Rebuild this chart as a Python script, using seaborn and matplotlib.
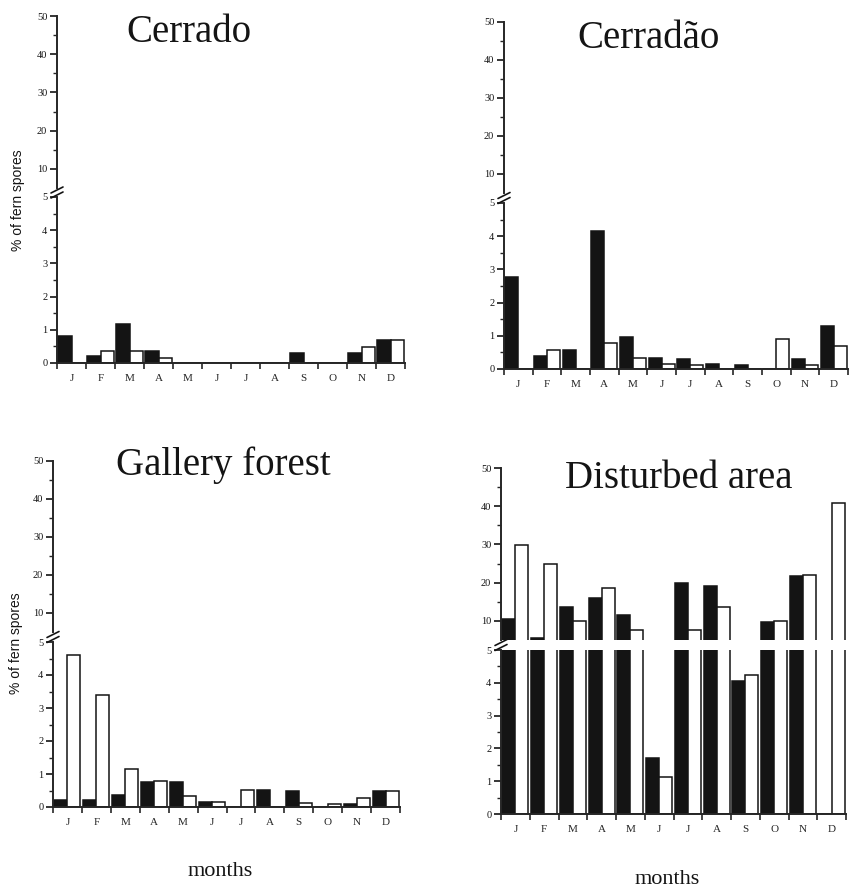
import matplotlib
matplotlib.use("Agg")
import matplotlib.pyplot as plt
from matplotlib.lines import Line2D
import seaborn as sns
import pandas as pd
import numpy as np

# ---------------- data ----------------
month_keys = ["Jan", "Feb", "Mar", "Apr", "May", "Jun",
              "Jul", "Aug", "Sep", "Oct", "Nov", "Dec"]
month_labels = ["J", "F", "M", "A", "M", "J", "J", "A", "S", "O", "N", "D"]
series_order = ["filled", "open"]

cerrado_filled = [0.82, 0.20, 1.18, 0.36, 0.0, 0.0, 0.0, 0.0, 0.31, 0.0, 0.29, 0.69]
cerrado_open = [0.0, 0.37, 0.37, 0.16, 0.0, 0.0, 0.0, 0.0, 0.0, 0.0, 0.47, 0.69]

cerradao_filled = [2.78, 0.40, 0.56, 4.15, 0.96, 0.33, 0.31, 0.15, 0.13, 0.0, 0.30, 1.30]
cerradao_open = [0.0, 0.58, 0.0, 0.78, 0.34, 0.15, 0.13, 0.0, 0.0, 0.90, 0.12, 0.70]

gallery_filled = [0.20, 0.20, 0.37, 0.77, 0.75, 0.14, 0.0, 0.52, 0.50, 0.0, 0.10, 0.48]
gallery_open = [4.60, 3.38, 1.16, 0.78, 0.33, 0.14, 0.52, 0.0, 0.12, 0.10, 0.28, 0.48]

disturbed_filled = [10.5, 5.6, 13.7, 16.1, 11.6, 1.70, 19.8, 19.0, 4.06, 9.6, 21.8, 0.0]
disturbed_open = [29.8, 24.8, 10.0, 18.7, 7.6, 1.12, 7.6, 13.7, 4.24, 10.0, 22.0, 40.9]

panel_titles = ["Cerrado", "Cerrad\u00e3o", "Gallery forest", "Disturbed area"]
panel_data = [(cerrado_filled, cerrado_open),
              (cerradao_filled, cerradao_open),
              (gallery_filled, gallery_open),
              (disturbed_filled, disturbed_open)]

upper_ticks = [10, 20, 30, 40, 50]
lower_ticks = [0, 1, 2, 3, 4, 5]

# ---------------- style ----------------
sns.set_style("ticks")
plt.rcParams["font.family"] = ["Liberation Serif", "DejaVu Serif"]
plt.rcParams["axes.linewidth"] = 1.4
plt.rcParams["xtick.major.width"] = 1.2
plt.rcParams["ytick.major.width"] = 1.2
plt.rcParams["ytick.minor.width"] = 1.0
plt.rcParams["xtick.minor.width"] = 1.2

W, H = 852, 889
fig = plt.figure(figsize=(W / 100, H / 100), dpi=100)


def frac(x0, x1, ytop, ybot):
    return [x0 / W, 1 - ybot / H, (x1 - x0) / W, (ybot - ytop) / H]


# pixel layout: x_left, x_right, y(50), y(5 upper), y(5 lower), y(0)
layout = [(57, 405, 16, 188, 197, 363),
          (504, 848, 22, 193, 203, 369),
          (53, 400, 461, 632, 642, 807),
          (501, 846, 468, 640, 650, 814)]
title_pos = [(189, 33), (649, 38), (223, 465), (679, 478)]

ink = "#141414"
palette = {"filled": ink, "open": "white"}

for (fill_vals, open_vals), title, (x0, x1, y50, y5u, y5l, y0), (tx, ty) in zip(
        panel_data, panel_titles, layout, title_pos):
    df = pd.DataFrame({
        "month": month_keys * 2,
        "series": ["filled"] * 12 + ["open"] * 12,
        "value": list(fill_vals) + list(open_vals),
    })
    ax_up = fig.add_axes(frac(x0, x1, y50, y5u))
    ax_lo = fig.add_axes(frac(x0, x1, y5l, y0))
    for ax in (ax_up, ax_lo):
        sns.barplot(data=df, x="month", y="value", hue="series",
                    order=month_keys, hue_order=series_order,
                    palette=palette, saturation=1, width=0.9,
                    edgecolor=ink, linewidth=1.1, errorbar=None,
                    legend=False, ax=ax)
        ax.set_xlim(-0.5, 11.5)
        ax.set_xlabel("")
        ax.set_ylabel("")
        ax.spines["top"].set_visible(False)
        ax.spines["right"].set_visible(False)
        ax.patch.set_alpha(0)
        ax.tick_params(axis="y", which="major", direction="out", length=5,
                       labelsize=7.5, pad=2, colors=ink)
        ax.tick_params(axis="y", which="minor", direction="out", length=3)

    # upper part (5 - 50)
    ax_up.set_ylim(5, 50)
    ax_up.set_yticks(upper_ticks)
    ax_up.set_yticks([15, 25, 35, 45], minor=True)
    ax_up.spines["bottom"].set_visible(False)
    ax_up.set_xticks([])
    ax_up.tick_params(axis="x", which="both", length=0, labelbottom=False)

    # lower part (0 - 5)
    ax_lo.set_ylim(0, 5)
    ax_lo.set_yticks(lower_ticks)
    ax_lo.set_yticks(np.arange(0.5, 5, 1.0), minor=True)
    ax_lo.set_xticks(range(12))
    ax_lo.set_xticklabels(month_labels, fontsize=8)
    ax_lo.set_xticks(np.arange(-0.5, 12, 1.0), minor=True)
    ax_lo.tick_params(axis="x", which="major", length=0, pad=8)
    ax_lo.tick_params(axis="x", which="minor", length=4, direction="out")

    # axis-break marks
    ymid = (y5u + y5l) / 2
    for dy in (-2.5, 2.5):
        fig.add_artist(Line2D([(x0 - 6) / W, (x0 + 6) / W],
                              [1 - (ymid + dy + 3) / H, 1 - (ymid + dy - 3) / H],
                              color=ink, lw=1.2))

    fig.text(tx / W, 1 - ty / H, title, ha="center", va="center",
             fontsize=28, family=["Liberation Serif"], color=ink)

# y labels
fig.text(18 / W, 1 - 200 / H, "% of fern spores", rotation=90, ha="center",
         va="center", fontsize=10, family=["Liberation Sans"], color=ink)
fig.text(16 / W, 1 - 643 / H, "% of fern spores", rotation=90, ha="center",
         va="center", fontsize=10, family=["Liberation Sans"], color=ink)

# x labels
fig.text(220 / W, 1 - 872 / H, "months", ha="center", va="center",
         fontsize=16, color=ink)
fig.text(667 / W, 1 - 880 / H, "months", ha="center", va="center",
         fontsize=16, color=ink)

fig.savefig("out.png", dpi=100, facecolor="white")
